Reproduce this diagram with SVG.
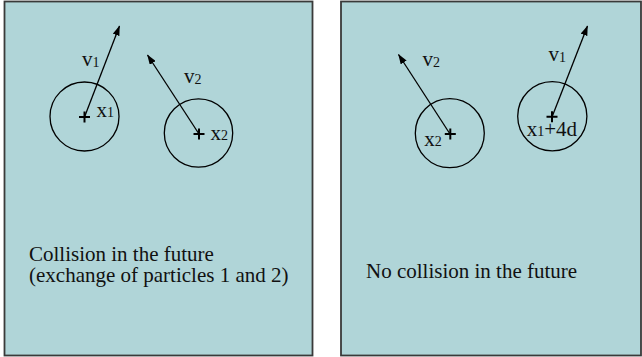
<svg xmlns="http://www.w3.org/2000/svg" width="642" height="357" viewBox="0 0 642 357">
  <style>
    .panel { fill: #b0d5d8; stroke: #3a3a3a; stroke-width: 1.8; }
    .circ { fill: none; stroke: #000; stroke-width: 1.3; }
    .cross { stroke: #000; stroke-width: 2; fill: none; }
    .vec { stroke: #000; stroke-width: 1.3; fill: none; marker-end: url(#ah); }
    text { font-family: "Liberation Serif", "Times New Roman", serif; font-size: 21px; fill: #111; }
    .sub { font-size: 14px; }
  </style>
  <defs>
    <marker id="ah" markerUnits="userSpaceOnUse" markerWidth="10" markerHeight="7" refX="9.5" refY="3.5" orient="auto">
      <path d="M0,0 L10,3.5 L0,7 z" fill="#000"/>
    </marker>
  </defs>

  <g id="panel-left">
    <rect class="panel" x="4.5" y="1.5" width="308" height="354"/>
    <text x="29" y="260.5">Collision in the future</text>
    <text x="29" y="281.5">(exchange of particles 1 and 2)</text>
  </g>
  <g id="panel-right">
    <rect class="panel" x="341" y="1.5" width="300" height="354"/>
    <text x="366" y="278">No collision in the future</text>
  </g>

  <g id="connectors">
    <line class="vec" x1="84.5" y1="117" x2="119.5" y2="26"/>
    <text x="82" y="66">v<tspan class="sub" dy="1">1</tspan></text>
    <line class="vec" x1="199" y1="134" x2="147.5" y2="55"/>
    <text x="184" y="83">v<tspan class="sub" dy="1">2</tspan></text>
    <line class="vec" x1="450" y1="134" x2="398.5" y2="54.5"/>
    <text x="422.5" y="66">v<tspan class="sub" dy="1">2</tspan></text>
    <line class="vec" x1="552" y1="117" x2="587.5" y2="26"/>
    <text x="548.5" y="61">v<tspan class="sub" dy="1">1</tspan></text>
  </g>

  <g id="particle-left-1">
    <circle class="circ" cx="84.5" cy="116.5" r="34.5"/>
    <path class="cross" d="M79,117 H90 M84.5,111.5 V122.5"/>
    <text x="96.5" y="117">x<tspan class="sub">1</tspan></text>
  </g>
  <g id="particle-left-2">
    <circle class="circ" cx="198.5" cy="133" r="34.2"/>
    <path class="cross" d="M193.5,134 H204.5 M199,128.5 V139.5"/>
    <text x="210.5" y="139.5">x<tspan class="sub">2</tspan></text>
  </g>
  <g id="particle-right-2">
    <circle class="circ" cx="449.8" cy="133.2" r="34.5"/>
    <path class="cross" d="M444.8,134 H455.8 M450.3,128.5 V139.5"/>
    <text x="424.3" y="145.5">x<tspan class="sub">2</tspan></text>
  </g>
  <g id="particle-right-1">
    <circle class="circ" cx="552.3" cy="116.2" r="34.6"/>
    <path class="cross" d="M546.5,116.7 H557.5 M552,111.2 V122.2"/>
    <text x="526.7" y="136">x<tspan class="sub">1</tspan>+4d</text>
  </g>
</svg>
